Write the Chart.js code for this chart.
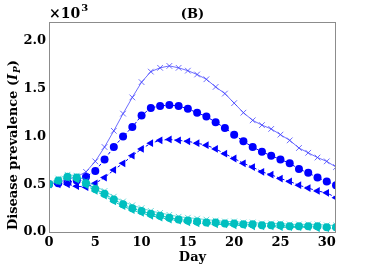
<!DOCTYPE html>
<html>
<head>
<meta charset="utf-8">
<script src="https://cdn.jsdelivr.net/npm/chart.js@4"></script>
<style>
  html, body { margin: 0; padding: 0; background: #fff; }
  #wrap { width: 374px; height: 273px; }
</style>
</head>
<body>
<div id="wrap"><canvas id="prevChart" width="374" height="273"></canvas></div>
<script>
// days 0..31, values in units of 10^3
const days = Array.from({ length: 32 }, (_, i) => i);
const xTicks = [0, 5, 10, 15, 20, 25, 30];
const yTicks = [0, 0.5, 1.0, 1.5, 2.0];

const blueCross = [0.50, 0.52, 0.55, 0.58, 0.63, 0.74, 0.89, 1.06, 1.24, 1.41, 1.57, 1.68, 1.72, 1.74, 1.72, 1.69,
                   1.65, 1.60, 1.52, 1.45, 1.35, 1.25, 1.17, 1.12, 1.08, 1.02, 0.96, 0.88, 0.83, 0.78, 0.74, 0.68];
const blueCircle = [0.50, 0.51, 0.52, 0.54, 0.58, 0.64, 0.76, 0.89, 1.00, 1.10, 1.22, 1.30, 1.32, 1.33, 1.32, 1.29,
                    1.25, 1.21, 1.15, 1.09, 1.02, 0.95, 0.89, 0.84, 0.80, 0.76, 0.72, 0.66, 0.62, 0.57, 0.53, 0.49];
const blueTri = [0.50, 0.50, 0.50, 0.48, 0.47, 0.51, 0.57, 0.65, 0.72, 0.80, 0.87, 0.93, 0.96, 0.97, 0.96, 0.95,
                 0.93, 0.91, 0.87, 0.82, 0.77, 0.72, 0.68, 0.63, 0.60, 0.56, 0.53, 0.49, 0.46, 0.43, 0.41, 0.36];
const cyanCross = [0.51, 0.56, 0.60, 0.59, 0.54, 0.48, 0.43, 0.37, 0.32, 0.28, 0.25, 0.22, 0.20, 0.18, 0.16, 0.15,
                   0.14, 0.13, 0.12, 0.11, 0.11, 0.10, 0.10, 0.09, 0.09, 0.09, 0.08, 0.08, 0.08, 0.08, 0.07, 0.07];
const cyanCircle = [0.50, 0.54, 0.58, 0.57, 0.51, 0.45, 0.40, 0.34, 0.29, 0.25, 0.22, 0.19, 0.17, 0.15, 0.13, 0.12,
                    0.11, 0.10, 0.10, 0.09, 0.09, 0.08, 0.08, 0.07, 0.07, 0.07, 0.06, 0.06, 0.06, 0.06, 0.05, 0.05];
const cyanTri = [0.50, 0.53, 0.57, 0.55, 0.49, 0.43, 0.38, 0.32, 0.27, 0.23, 0.20, 0.17, 0.15, 0.13, 0.12, 0.10,
                 0.09, 0.09, 0.08, 0.08, 0.07, 0.07, 0.06, 0.06, 0.06, 0.05, 0.05, 0.05, 0.05, 0.04, 0.04, 0.04];

const serif = "'DejaVu Serif', 'Liberation Serif', serif";

function toPoints(vals) {
    return vals.map((v, i) => ({ x: days[i], y: v }));
}

function crossSet(vals, color) {
    return {
        data: toPoints(vals),
        borderColor: color,
        backgroundColor: color,
        borderWidth: 1,
        pointStyle: "crossRot",
        pointRadius: 4,
        pointBorderWidth: 1,
        pointBorderColor: color
    };
}

function markerSet(vals, color, style, radius) {
    return {
        data: toPoints(vals),
        borderColor: color,
        backgroundColor: color,
        borderWidth: 1,
        borderDash: [3, 2],
        pointStyle: style,
        pointRotation: style === "triangle" ? -90 : 0,
        pointRadius: radius,
        pointBorderWidth: 0
    };
}

// frame, corner labels, x title and rotated y label
const decor = {
    id: "decor",
    afterDraw(chart) {
        const { ctx, chartArea: a } = chart;
        ctx.save();
        ctx.strokeStyle = "#8c8c8c";
        ctx.lineWidth = 1;
        ctx.strokeRect(a.left + 0.5, a.top + 0.5, a.right - a.left - 1, a.bottom - a.top);

        ctx.fillStyle = "#000";
        ctx.textBaseline = "alphabetic";
        ctx.font = "bold 14px " + serif;
        ctx.textAlign = "left";
        ctx.fillText("\u00d710", a.left, 18);
        let w = ctx.measureText("\u00d710").width;
        ctx.font = "bold 10px " + serif;
        ctx.fillText("3", a.left + w + 1, 11);

        ctx.font = "bold 13px " + serif;
        ctx.textAlign = "center";
        ctx.fillText("(B)", (a.left + a.right) / 2, 18);
        ctx.fillText("Day", (a.left + a.right) / 2, 261);

        // y label
        ctx.translate(17, 145);
        ctx.rotate(-Math.PI / 2);
        const main = "Disease prevalence (";
        ctx.font = "bold 13px " + serif;
        const w1 = ctx.measureText(main).width;
        ctx.font = "italic bold 13px " + serif;
        const w2 = ctx.measureText("I").width;
        ctx.font = "italic bold 9px " + serif;
        const w3 = ctx.measureText("P").width;
        ctx.font = "bold 13px " + serif;
        const w4 = ctx.measureText(")").width;
        let x = -(w1 + w2 + w3 + w4 + 1) / 2;
        ctx.textAlign = "left";
        ctx.fillText(main, x, 0);
        x += w1;
        ctx.font = "italic bold 13px " + serif;
        ctx.fillText("I", x, 0);
        x += w2 + 1;
        ctx.font = "italic bold 9px " + serif;
        ctx.fillText("P", x, 3);
        x += w3;
        ctx.font = "bold 13px " + serif;
        ctx.fillText(")", x, 0);
        ctx.restore();
    }
};

new Chart(document.getElementById("prevChart").getContext("2d"), {
    type: "line",
    data: {
        datasets: [
            crossSet(cyanCross, "rgba(0,191,191,0.6)"),
            markerSet(cyanTri, "#00bfbf", "triangle", 4.5),
            markerSet(cyanCircle, "#00bfbf", "circle", 4),
            crossSet(blueCross, "rgba(60,60,255,0.75)"),
            markerSet(blueCircle, "#0000ff", "circle", 4),
            markerSet(blueTri, "#0000ff", "triangle", 4.5)
        ]
    },
    options: {
        responsive: false,
        animation: false,
        layout: { padding: { top: 22, right: 38, bottom: 0, left: 0 } },
        plugins: {
            legend: { display: false },
            tooltip: { enabled: false }
        },
        scales: {
            x: {
                type: "linear",
                min: 0,
                max: 31,
                afterBuildTicks: (s) => { s.ticks = xTicks.map(v => ({ value: v })); },
                afterFit: (s) => { s.height = 41; },
                grid: { display: false, drawTicks: true, tickLength: 2, tickColor: "#8c8c8c" },
                border: { display: false },
                ticks: {
                    color: "#000",
                    padding: 1,
                    maxRotation: 0,
                    font: { family: serif, size: 13, weight: "bold" }
                }
            },
            y: {
                min: 0,
                max: 2.2,
                afterBuildTicks: (s) => { s.ticks = yTicks.map(v => ({ value: v })); },
                afterFit: (s) => { s.width = 49; },
                grid: { display: false, drawTicks: true, tickLength: 2, tickColor: "#8c8c8c" },
                border: { display: false },
                ticks: {
                    color: "#000",
                    padding: 1,
                    callback: (v) => v.toFixed(1),
                    font: { family: serif, size: 13, weight: "bold" }
                }
            }
        }
    },
    plugins: [decor]
});
</script>
</body>
</html>
